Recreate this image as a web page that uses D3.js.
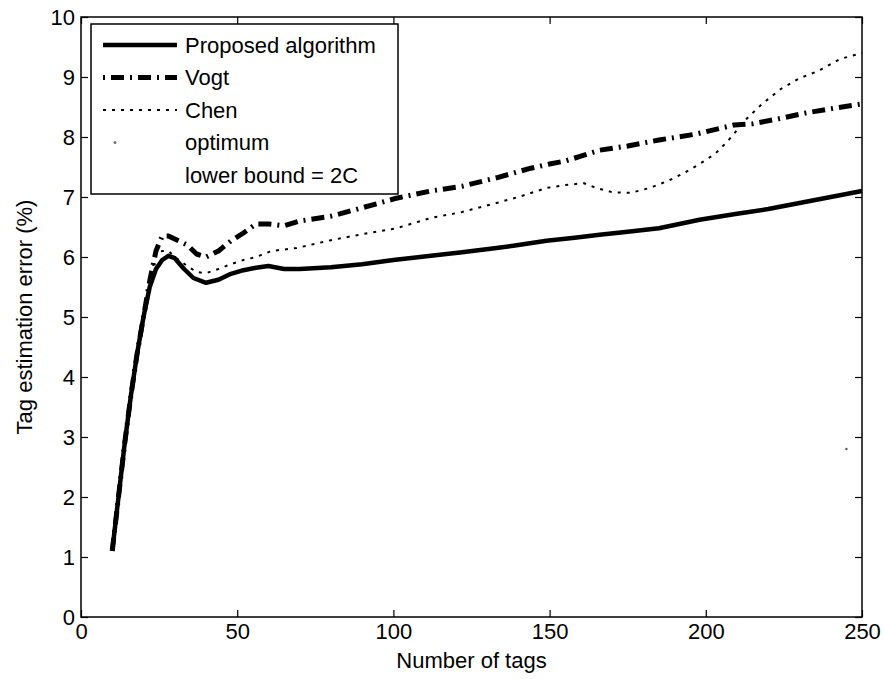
<!DOCTYPE html>
<html>
<head>
<meta charset="utf-8">
<script src="https://cdn.jsdelivr.net/npm/d3@7"></script>
<style>
  body { margin: 0; background: #fff; }
  text { font-family: "Liberation Sans", Arial, Helvetica, sans-serif; fill: #000; }
</style>
</head>
<body>
<svg id="chart" width="884" height="679"></svg>
<script>
// values
var xTicks = [0, 50, 100, 150, 200, 250];
var yTicks = [0, 1, 2, 3, 4, 5, 6, 7, 8, 9, 10];

var proposedTags = [10,12,14,16,18,20,22,24,26,28,30,33,36,40,44,48,52,56,60,65,70,80,90,100,112,122,133,140,149,158,166,175,185,198,210,220,230,240,250];
var proposedErr  = [1.1,2.0,2.9,3.7,4.4,5.0,5.5,5.8,5.95,6.02,5.98,5.8,5.65,5.57,5.62,5.72,5.78,5.82,5.85,5.8,5.8,5.83,5.88,5.95,6.02,6.08,6.15,6.2,6.27,6.32,6.37,6.42,6.48,6.62,6.72,6.8,6.9,7.0,7.1];

var vogtTags = [10,12,14,16,18,20,22,24,26,28,30,34,37,40,44,48,52,56,60,65,70,80,90,101,112,122,133,144,150,155,160,166,175,185,197,209,215,223,232,241,250];
var vogtErr  = [1.1,2.0,2.9,3.7,4.4,5.0,5.6,6.1,6.35,6.35,6.3,6.2,6.05,6.0,6.1,6.27,6.4,6.55,6.55,6.52,6.6,6.68,6.82,6.98,7.1,7.18,7.32,7.48,7.55,7.6,7.68,7.78,7.85,7.95,8.05,8.2,8.22,8.3,8.4,8.48,8.55];

var chenTags = [10,12,14,16,18,20,22,24,26,28,30,34,37,40,44,48,52,56,61,69,80,90,101,112,122,133,140,149,155,161,165,170,176,182,188,193,198,203,207,213,218,224,230,236,243,250];
var chenErr  = [1.1,2.0,2.9,3.7,4.4,5.0,5.6,6.05,6.1,6.1,6.0,5.85,5.75,5.73,5.8,5.88,5.95,6.0,6.1,6.15,6.28,6.38,6.48,6.65,6.75,6.9,7.0,7.15,7.2,7.23,7.15,7.08,7.07,7.15,7.27,7.4,7.55,7.72,7.93,8.3,8.55,8.8,8.98,9.1,9.3,9.4];

var optimumTags = [245];
var optimumErr  = [2.8];

var legendNames = ["Proposed algorithm", "Vogt", "Chen", "optimum", "lower bound = 2C"];

var svg = d3.select("#chart");
var pLeft = 81, pRight = 862, pTop = 17, pBottom = 617;

var x = d3.scaleLinear().domain([0, 250]).range([pLeft, pRight]);
var y = d3.scaleLinear().domain([0, 10]).range([pBottom, pTop]);

function zip(xs, ys) { return xs.map(function(v, i) { return [v, ys[i]]; }); }

var line = d3.line()
    .x(function(d) { return x(d[0]); })
    .y(function(d) { return y(d[1]); });

// axes, ticks pointing inward like matlab
svg.append("g")
    .attr("transform", "translate(0," + pBottom + ")")
    .call(d3.axisBottom(x).tickValues(xTicks).tickSizeInner(-7).tickSizeOuter(0).tickPadding(6));
svg.append("g")
    .attr("transform", "translate(0," + pTop + ")")
    .call(d3.axisTop(x).tickValues(xTicks).tickSizeInner(-7).tickSizeOuter(0).tickFormat(""));
svg.append("g")
    .attr("transform", "translate(" + pLeft + ",0)")
    .call(d3.axisLeft(y).tickValues(yTicks).tickSizeInner(-7).tickSizeOuter(0).tickPadding(6));
svg.append("g")
    .attr("transform", "translate(" + pRight + ",0)")
    .call(d3.axisRight(y).tickValues(yTicks).tickSizeInner(-7).tickSizeOuter(0).tickFormat(""));

svg.selectAll(".domain").remove();
svg.selectAll(".tick line").attr("stroke", "#000").attr("stroke-width", 1.2);
svg.selectAll(".tick text").attr("font-size", 22);

svg.append("rect")
    .attr("x", pLeft).attr("y", pTop)
    .attr("width", pRight - pLeft).attr("height", pBottom - pTop)
    .attr("fill", "none").attr("stroke", "#000").attr("stroke-width", 1.5);

// series
var series = [
  {data: zip(proposedTags, proposedErr), width: 4.5, dash: null},
  {data: zip(vogtTags, vogtErr), width: 5, dash: "13,6,2,6"},
  {data: zip(chenTags, chenErr), width: 2, dash: "3,6"}
];

series.forEach(function(s) {
  svg.append("path")
      .datum(s.data)
      .attr("d", line)
      .attr("fill", "none")
      .attr("stroke", "#000")
      .attr("stroke-width", s.width)
      .attr("stroke-dasharray", s.dash)
      .attr("stroke-linejoin", "round");
});

svg.selectAll(".opt")
    .data(zip(optimumTags, optimumErr))
    .enter().append("circle")
      .attr("class", "opt")
      .attr("cx", function(d) { return x(d[0]); })
      .attr("cy", function(d) { return y(d[1]); })
      .attr("r", 1.2)
      .attr("fill", "#555");

// axis labels
svg.append("text")
    .attr("x", (pLeft + pRight) / 2)
    .attr("y", 668)
    .attr("text-anchor", "middle")
    .attr("font-size", 22)
    .text("Number of tags");

svg.append("text")
    .attr("transform", "translate(32," + ((pTop + pBottom) / 2) + ") rotate(-90)")
    .attr("text-anchor", "middle")
    .attr("font-size", 22)
    .text("Tag estimation error (%)");

// legend
var legend = svg.append("g");
legend.append("rect")
    .attr("x", 91).attr("y", 24)
    .attr("width", 307).attr("height", 170)
    .attr("fill", "#fff").attr("stroke", "#000").attr("stroke-width", 1.5);

var rowY = d3.scalePoint().domain(legendNames).range([45, 175]);

legend.selectAll(".lt")
    .data(legendNames)
    .enter().append("text")
      .attr("class", "lt")
      .attr("x", 185)
      .attr("y", function(d) { return rowY(d); })
      .attr("dy", "0.35em")
      .attr("font-size", 22)
      .text(function(d) { return d; });

series.forEach(function(s, i) {
  legend.append("line")
      .attr("x1", 103).attr("x2", 177)
      .attr("y1", rowY(legendNames[i])).attr("y2", rowY(legendNames[i]))
      .attr("stroke", "#000")
      .attr("stroke-width", s.width)
      .attr("stroke-dasharray", i === 1 ? "2,6,13,6" : s.dash);
});

legend.append("circle")
    .attr("cx", 115).attr("cy", rowY(legendNames[3]))
    .attr("r", 1.5).attr("fill", "#777");
</script>
</body>
</html>
